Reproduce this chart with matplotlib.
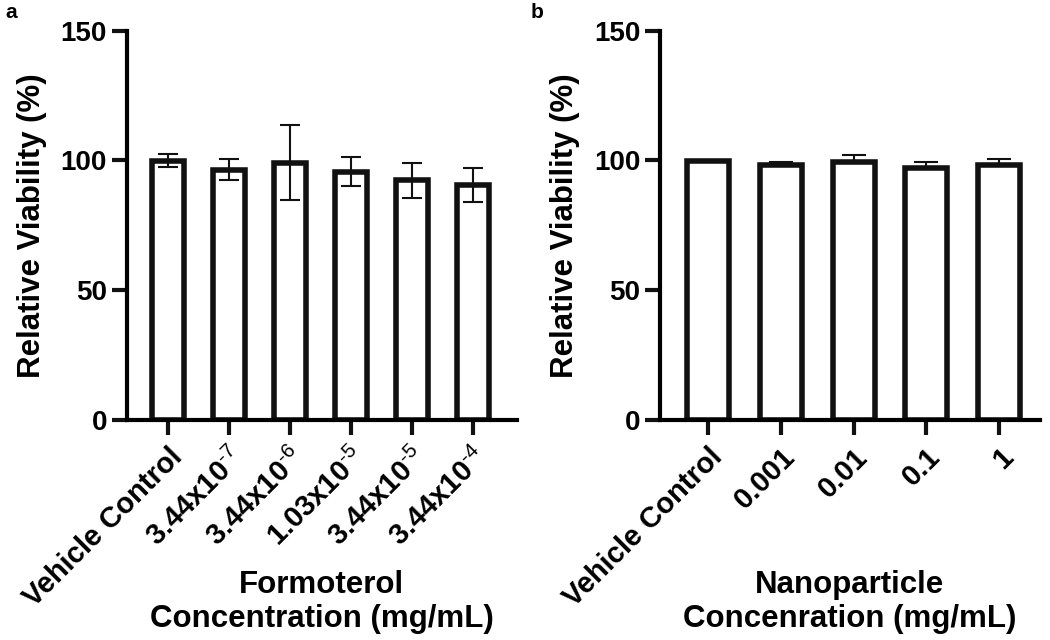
import numpy as np
import matplotlib
matplotlib.use('Agg')
import matplotlib.pyplot as plt

plt.rcParams['font.family'] = ['Liberation Sans', 'DejaVu Sans']
plt.rcParams['mathtext.fontset'] = 'custom'
plt.rcParams['mathtext.rm'] = 'Liberation Sans'
plt.rcParams['mathtext.it'] = 'Liberation Sans'
plt.rcParams['mathtext.bf'] = 'Liberation Sans:bold'

# --- data ---
form_labels = ['Vehicle Control', r'3.44x10$^{\text{-7}}$', r'3.44x10$^{\text{-6}}$',
               r'1.03x10$^{\text{-5}}$', r'3.44x10$^{\text{-5}}$', r'3.44x10$^{\text{-4}}$']
form_mean = [99.8, 96.4, 99.1, 95.7, 92.4, 90.4]
form_sd = [2.5, 4.1, 14.5, 5.6, 6.8, 6.6]

nano_labels = ['Vehicle Control', '0.001', '0.01', '0.1', '1']
nano_mean = [99.8, 98.2, 99.5, 97.2, 98.1]
nano_sd = [0.0, 1.1, 2.5, 2.3, 2.3]

LW = 4.0
TICK_W = 3.0
LABEL_FS = 22.5


def style_axes(ax, n, xlim, labels):
    ax.set_ylim(0, 150)
    ax.set_yticks([0, 50, 100, 150])
    ax.set_xlim(*xlim)
    ax.set_xticks(np.arange(n))
    ax.set_xticklabels(labels, rotation=45, ha='right', rotation_mode='anchor',
                       fontsize=21, fontweight='bold')
    for lab in ax.get_yticklabels():
        lab.set_fontsize(20)
        lab.set_fontweight('bold')
    ax.spines['top'].set_visible(False)
    ax.spines['right'].set_visible(False)
    ax.spines['left'].set_linewidth(TICK_W)
    ax.spines['bottom'].set_linewidth(TICK_W)
    ax.tick_params(axis='both', width=TICK_W, length=10.5, color='#111111')
    ax.tick_params(axis='y', pad=4)
    ax.tick_params(axis='x', pad=6)
    ax.set_ylabel('Relative Viability (%)', fontsize=LABEL_FS, fontweight='bold',
                  labelpad=10)


fig = plt.figure(figsize=(10.5, 6.4), dpi=100)
fig.patch.set_facecolor('white')

# Panel a: Formoterol
ax1 = fig.add_axes([0.121, 0.344, 0.371, 0.608])
x1 = np.arange(len(form_mean))
ax1.errorbar(x1, form_mean, yerr=form_sd, fmt='none', ecolor='#111111',
             elinewidth=1.5, capsize=7.5, capthick=1.5, zorder=1)
ax1.bar(x1, form_mean, width=0.52, facecolor='none', edgecolor='#111111',
        linewidth=LW, zorder=2)
style_axes(ax1, len(form_mean), (-0.67, 5.72), form_labels)
ax1.set_xlabel('Formoterol\nConcentration (mg/mL)', fontsize=LABEL_FS,
               fontweight='bold', linespacing=1.2, va='top')
ax1.xaxis.set_label_coords(0.5, -0.385)

# Panel b: Nanoparticle
ax2 = fig.add_axes([0.629, 0.344, 0.361, 0.608])
x2 = np.arange(len(nano_mean))
ax2.errorbar(x2, nano_mean, yerr=[np.zeros(len(nano_sd)), nano_sd], fmt='none',
             ecolor='#111111', elinewidth=1.5, capsize=8.5, capthick=1.5, zorder=1)
ax2.bar(x2, nano_mean, width=0.58, facecolor='white', edgecolor='#111111',
        linewidth=LW, zorder=2)
style_axes(ax2, len(nano_mean), (-0.66, 4.56), nano_labels)
ax2.set_xlabel('Nanoparticle\nConcenration (mg/mL)', fontsize=LABEL_FS,
               fontweight='bold', linespacing=1.2, va='top')
ax2.xaxis.set_label_coords(0.5, -0.385)

fig.text(0.005, 0.995, 'a', fontsize=15, fontweight='bold', va='top')
fig.text(0.505, 0.995, 'b', fontsize=15, fontweight='bold', va='top')

fig.savefig('out.png', dpi=100, facecolor='white')
